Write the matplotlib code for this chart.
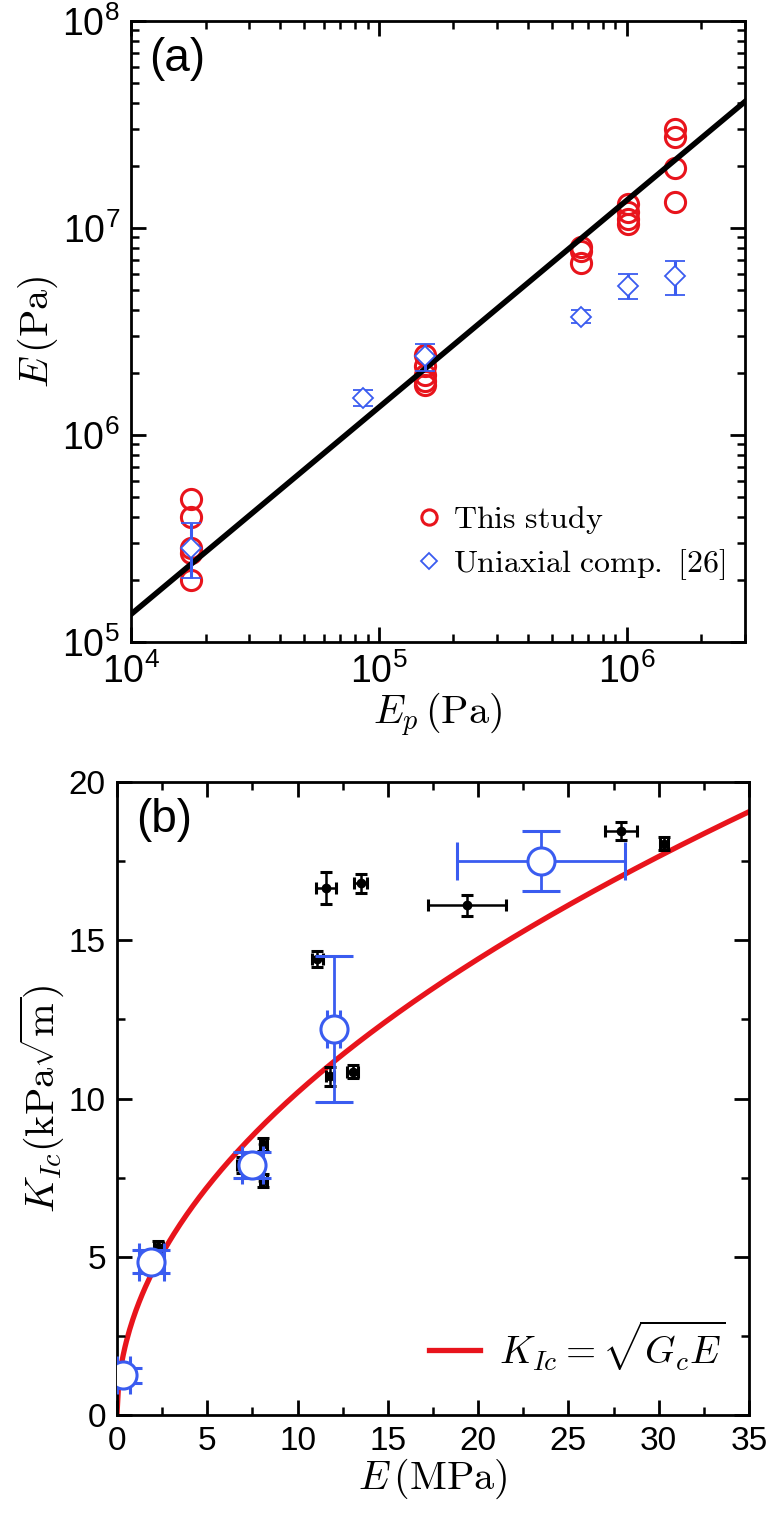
import matplotlib
matplotlib.use('Agg')
import matplotlib.pyplot as plt
from matplotlib.ticker import FuncFormatter, MultipleLocator, LogLocator, NullFormatter
from matplotlib.lines import Line2D
from matplotlib.font_manager import FontProperties
import numpy as np

plt.rcParams['font.family'] = ['Liberation Sans', 'DejaVu Sans']
# tick labels (10^n) in a Helvetica-like face, axis labels in Computer Modern
plt.rcParams['mathtext.fontset'] = 'custom'
plt.rcParams['mathtext.rm'] = 'Liberation Sans'
plt.rcParams['mathtext.it'] = 'Liberation Sans:italic'
plt.rcParams['mathtext.sf'] = 'Liberation Sans'

RED = '#e8141c'
BLUE = '#3a5cf0'

# panel (a): this study, E vs E_p
ep_study = [1.75e4] * 5 + [1.53e5] * 5 + [6.56e5] * 3 + [1.01e6] * 4 + [1.56e6] * 4
e_study = [4.9e5, 4.0e5, 2.85e5, 2.7e5, 2.0e5,
           2.43e6, 2.15e6, 1.95e6, 1.83e6, 1.75e6,
           8.1e6, 7.7e6, 6.8e6,
           1.3e7, 1.2e7, 1.1e7, 1.05e7,
           3.0e7, 2.75e7, 1.95e7, 1.33e7]

# uniaxial compression [26]
ep_uni = [1.75e4, 8.67e4, 1.53e5, 6.56e5, 1.01e6, 1.56e6]
e_uni = [2.85e5, 1.51e6, 2.41e6, 3.72e6, 5.25e6, 5.86e6]
e_uni_lo = [2.04e5, 1.38e6, 2.04e6, 3.48e6, 4.53e6, 4.74e6]
e_uni_hi = [3.76e5, 1.65e6, 2.75e6, 4.0e6, 6.0e6, 6.95e6]

fit_slope = 13.6  # E = c * E_p

# panel (b): K_Ic vs E, black points
e_blk = [2.3, 6.9, 8.1, 8.1, 11.1, 11.6, 13.5, 11.8, 13.05, 19.4, 27.9, 30.3]
k_blk = [5.3, 7.9, 8.55, 7.4, 14.4, 16.65, 16.8, 10.7, 10.85, 16.1, 18.45, 18.05]
e_blk_err = [0.25, 0.25, 0.2, 0.2, 0.3, 0.55, 0.35, 0.2, 0.3, 2.15, 0.9, 0.2]
k_blk_err = [0.2, 0.25, 0.2, 0.2, 0.25, 0.5, 0.3, 0.3, 0.2, 0.33, 0.28, 0.2]

# blue averaged points
e_blue = [0.35, 1.9, 7.5, 12.0, 23.5]
k_blue = [1.25, 4.85, 7.9, 12.2, 17.5]
e_blue_err = [0.35, 0.7, 0.6, 0.35, 4.65]
k_blue_lo = [0.25, 0.35, 0.4, 2.3, 0.95]
k_blue_hi = [0.25, 0.35, 0.4, 2.3, 0.95]

g_c = 10.38  # K = sqrt(Gc E)

LABEL_FS = 29
fig = plt.figure(figsize=(7.7, 15.22), dpi=100)

# ---------- (a) ----------
ax1 = fig.add_axes([0.1701, 0.5782, 0.7974, 0.4080])
ax1.set_xscale('log')
ax1.set_yscale('log')
ax1.plot(ep_study, e_study, 'o', ms=14.5, mfc='none', mec=RED, mew=2.2, zorder=2)
xx = np.logspace(4, np.log10(3e6), 50)
ax1.plot(xx, fit_slope * xx, '-', color='black', lw=4, zorder=3)
ax1.errorbar(ep_uni, e_uni,
             yerr=[np.array(e_uni) - np.array(e_uni_lo), np.array(e_uni_hi) - np.array(e_uni)],
             fmt='D', ms=10, mfc='white', mec=BLUE, mew=1.3, ecolor=BLUE,
             elinewidth=2.2, capsize=7, capthick=3, zorder=4)
ax1.set_xlim(1e4, 3e6)
ax1.set_ylim(1e5, 1e8)

fmt = FuncFormatter(lambda v, p: r'$10^{%d}$' % round(np.log10(v)))
ax1.xaxis.set_major_formatter(fmt)
ax1.yaxis.set_major_formatter(fmt)
ax1.xaxis.set_minor_formatter(NullFormatter())
ax1.yaxis.set_minor_formatter(NullFormatter())
ax1.xaxis.set_minor_locator(LogLocator(base=10, subs=np.arange(2, 10)))
ax1.yaxis.set_minor_locator(LogLocator(base=10, subs=np.arange(2, 10)))
ax1.set_xlabel(r'$E_p\,\mathrm{(Pa)}$', fontsize=LABEL_FS, labelpad=0, math_fontfamily='cm')
ax1.set_ylabel(r'$E\,\mathrm{(Pa)}$', fontsize=LABEL_FS, labelpad=2, math_fontfamily='cm')
ax1.text(0.03, 0.975, '(a)', transform=ax1.transAxes, fontsize=33, va='top', ha='left')

handles = [Line2D([], [], ls='none', marker='o', ms=11, mfc='none', mec=RED, mew=2.2),
           Line2D([], [], ls='none', marker='D', ms=8, mfc='white', mec=BLUE, mew=1.3)]
labels = [r'$\mathrm{This\ study}$', r'$\mathrm{Uniaxial\ comp.\ [26]}$']
ax1.legend(handles, labels, loc='lower right', bbox_to_anchor=(1.0, 0.065), frameon=False,
           prop=FontProperties(size=23, math_fontfamily='cm'),
           handletextpad=0.25, labelspacing=0.35, handlelength=1.0, borderaxespad=0.2)

# ---------- (b) ----------
ax2 = fig.add_axes([0.1519, 0.0703, 0.8208, 0.4159])
ee = np.linspace(0, 35, 400)
ax2.plot(ee, np.sqrt(g_c * ee), '-', color=RED, lw=3.8, zorder=1)
ax2.errorbar(e_blk, k_blk, xerr=e_blk_err, yerr=k_blk_err, fmt='o', ms=6,
             color='black', elinewidth=1.8, capsize=4.5, capthick=2.2, zorder=2)
ax2.errorbar(e_blue, k_blue, xerr=e_blue_err, yerr=[k_blue_lo, k_blue_hi], fmt='o',
             ms=19.5, mfc='white', mec=BLUE, mew=2.2, ecolor=BLUE,
             elinewidth=2.0, capsize=13.7, capthick=2.2, zorder=3)
ax2.set_xlim(0, 35)
ax2.set_ylim(0, 20)
ax2.xaxis.set_major_locator(MultipleLocator(5))
ax2.xaxis.set_minor_locator(MultipleLocator(2.5))
ax2.yaxis.set_major_locator(MultipleLocator(5))
ax2.yaxis.set_minor_locator(MultipleLocator(2.5))
ax2.set_xlabel(r'$E\,\mathrm{(MPa)}$', fontsize=LABEL_FS, labelpad=0, math_fontfamily='cm')
ax2.set_ylabel(r'$K_{Ic}(\mathrm{kPa}\sqrt{\mathrm{m}})$', fontsize=LABEL_FS, labelpad=2,
               math_fontfamily='cm')
ax2.text(0.03, 0.975, '(b)', transform=ax2.transAxes, fontsize=33, va='top', ha='left')
ax2.legend([Line2D([], [], color=RED, lw=3.8)], [r'$K_{Ic}=\sqrt{G_c E}$'],
           loc='lower right', bbox_to_anchor=(1.0, 0.03), frameon=False,
           prop=FontProperties(size=28, math_fontfamily='cm'),
           handlelength=1.3, handletextpad=0.5, borderaxespad=0.2)

for ax in (ax1, ax2):
    for s in ax.spines.values():
        s.set_linewidth(2.0)
    ax.tick_params(which='both', direction='in', top=True, right=True, pad=8)
    ax.tick_params(which='major', length=11, width=2.0)
    ax.tick_params(which='minor', length=6, width=1.8)
ax1.tick_params(labelsize=27)
ax2.tick_params(labelsize=24)

fig.savefig('out.png', dpi=100)
